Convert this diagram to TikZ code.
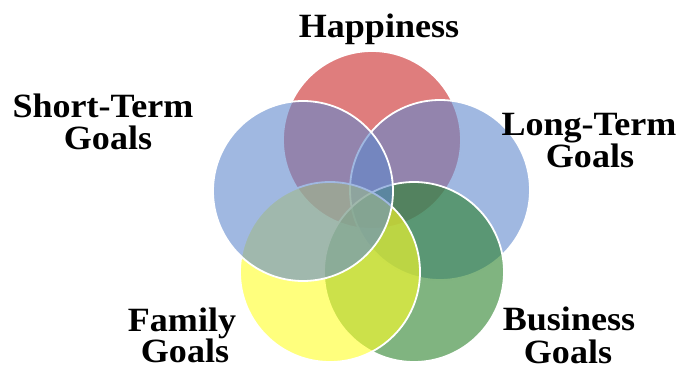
\documentclass[tikz,border=0pt]{standalone}
\usepackage{fontspec}
\setmainfont{Liberation Serif}[FakeStretch=1.06]
\definecolor{cred}{RGB}{202,38,38}
\definecolor{cblue}{RGB}{97,137,205}
\definecolor{cyellow}{RGB}{255,255,38}
\definecolor{cgreen}{RGB}{43,130,43}
\begin{document}
\begin{tikzpicture}[x=1pt,y=-1pt,
  venn/.style={circle,minimum size=180pt,inner sep=0pt,draw=white,line width=1.8pt,fill opacity=0.6},
  lbl/.style={anchor=base,inner sep=0pt,font=\fontsize{34}{35}\selectfont\bfseries}]
\useasboundingbox (0,0) rectangle (680,370);
\node[venn,fill=cred,minimum size=178pt] (hap) at (372,140) {};
\node[venn,fill=cblue] (lt) at (440,190) {};
\node[venn,fill=cgreen] (bus) at (414,272) {};
\node[venn,fill=cyellow] (fam) at (330,272) {};
\node[venn,fill=cblue] (st) at (303,191) {};
\node[lbl] (hapl) at (379,37) {Happiness};
\node[lbl] (st1) at (103,117) {Short-Term};
\node[lbl] (st2) at (108,149) {Goals};
\node[lbl] (lt1) at (589,135) {Long-Term};
\node[lbl] (lt2) at (590,167) {Goals};
\node[lbl] (fam1) at (182,331) {Family};
\node[lbl] (fam2) at (185,362) {Goals};
\node[lbl] (bus1) at (569,330) {Business};
\node[lbl] (bus2) at (568,363) {Goals};
\end{tikzpicture}
\end{document}
